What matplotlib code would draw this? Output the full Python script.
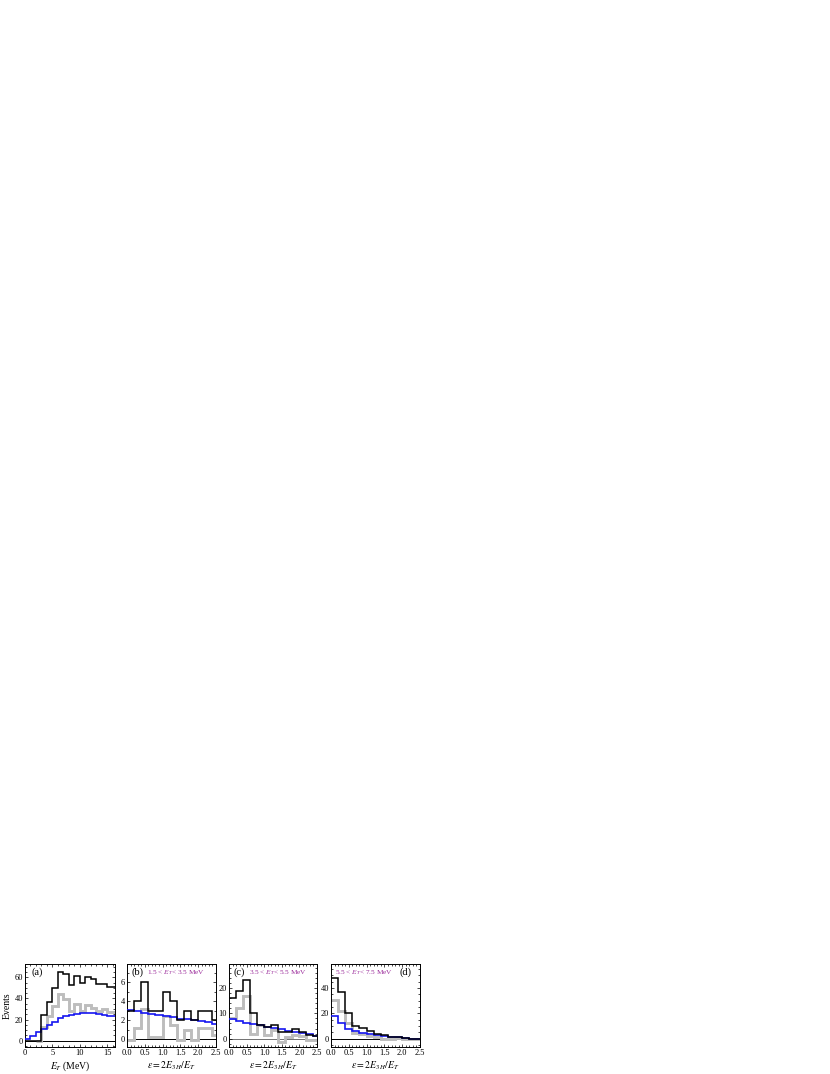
import numpy as np
import matplotlib
matplotlib.use("Agg")
import matplotlib.pyplot as plt
from matplotlib.ticker import MultipleLocator

plt.rcParams['font.family'] = ['Liberation Serif', 'DejaVu Serif']
plt.rcParams['mathtext.fontset'] = 'stix'

# ---------------- data ----------------
# panel (a): E_T spectrum, 1 MeV bins
a_edges_black = np.arange(0, 18, 1.0)
a_black = [0, 0, 0, 24, 37, 50, 65, 63, 53, 61, 55, 60, 58, 54, 54, 51, 51]
a_edges_gray = np.arange(2, 18, 1.0)
a_gray = [0, 13, 23, 33, 44, 39, 28.5, 35, 28.5, 33.5, 31, 28.5, 29.5, 27.5, 27.5]
a_blue = [1.6, 4.7, 7.8, 11.3, 14.4, 17.9, 21, 23, 24.5, 25.5, 26.3, 26.5, 26.2, 25.5, 24.5, 23.5, 23]

# panels (b)-(d): epsilon spectra, 0.2 bins
eps_edges = np.arange(0, 2.61, 0.2)
b_black = [3, 4, 6, 3, 3, 5, 4, 2, 3, 2, 3, 3, 2]
b_gray = [-0.1, 1.2, 3.2, 0.3, 0.3, 2.5, 1.5, -0.1, 1.0, -0.1, 1.2, 1.2, 0.5]
b_blue = [3.1, 2.95, 2.8, 2.7, 2.6, 2.5, 2.4, 2.2, 2.1, 2.0, 1.9, 1.8, 1.6]

c_black = [16, 19, 23, 10, 5.5, 4.5, 5.5, 2.5, 2.5, 4, 2.5, 1.5, 1]
c_gray = [8.2, 12, 17, 2, 5.5, 1.5, 3.5, -1.5, 0.5, 1.5, 1, -0.5, -0.5]
c_blue = [7.6, 7.0, 6.3, 5.8, 5.3, 4.7, 4.2, 3.7, 3.2, 2.7, 2.2, 1.7, 1.2]

d_black = [48, 37, 20.5, 10, 8.7, 6, 4, 2.6, 1.6, 1.3, 0.5, 0.2, 0]
d_gray = [30.5, 22, 12.8, 4.7, 3.4, 2, 1, -0.5, 0, 0.3, 0, 0, 0]
d_blue = [17.9, 12.1, 7.4, 6, 4.7, 4, 2.9, 2.1, 1.5, 1, 0.5, 0.2, 0]

ranges = ["1.5 < $E_T$< 3.5 MeV", "3.5 < $E_T$< 5.5 MeV", "5.5 < $E_T$< 7.5 MeV"]
labels = ["(a)", "(b)", "(c)", "(d)"]

# ---------------- figure ----------------
W, H = 830, 1074
fig = plt.figure(figsize=(W / 100, H / 100), dpi=100)

def ax_at(x0, x1, y0=964, y1=1047):
    return fig.add_axes([x0 / W, (H - y1) / H, (x1 - x0) / W, (y1 - y0) / H])

axes = [ax_at(25, 115), ax_at(127, 216), ax_at(229, 317), ax_at(331, 420)]

GRAY = '#bdbdbd'
BLUE = '#1515f0'
PURPLE = '#9a2a9a'
TFS = 6.0
LFS = 7.0
PFS = 7.5

def style(ax, xmaj, xmin, ymaj, ymin):
    ax.xaxis.set_major_locator(MultipleLocator(xmaj))
    ax.xaxis.set_minor_locator(MultipleLocator(xmin))
    ax.yaxis.set_major_locator(MultipleLocator(ymaj))
    ax.yaxis.set_minor_locator(MultipleLocator(ymin))
    ax.tick_params(which='both', direction='in', top=True, right=True,
                   labelsize=TFS, pad=1.5, width=0.5)
    ax.tick_params(which='major', length=2.2)
    ax.tick_params(which='minor', length=1.1)
    for s in ax.spines.values():
        s.set_linewidth(0.7)

# panel (a)
ax = axes[0]
ax.axhline(0, color='black', lw=0.7, zorder=1)
ax.stairs(a_gray, a_edges_gray, color=GRAY, lw=2.1, baseline=None, zorder=2)
ax.stairs(a_blue, a_edges_black, color=BLUE, lw=1.2, baseline=None, zorder=3)
ax.stairs(a_black, a_edges_black, color='black', lw=1.1, baseline=None, zorder=4)
ax.set_xlim(0, 16.4)
ax.set_ylim(-6, 72.5)
style(ax, 5, 1, 20, 5)
ax.set_xticks([0, 5, 10, 15])
ax.set_ylabel("Events", fontsize=LFS, labelpad=2)
ax.set_xlabel("$E_T$ (MeV)", fontsize=LFS, labelpad=2)
ax.text(0.07, 0.9, labels[0], transform=ax.transAxes, fontsize=PFS, va='center', ha='left')

panel_data = [(b_black, b_gray, b_blue, (-0.8, 7.95), 2, 1),
              (c_black, c_gray, c_blue, (-3.3, 29.5), 10, 2),
              (d_black, d_gray, d_blue, (-6.5, 59), 20, 5)]
zero_cols = ['black', '#707070', 'black']

for i, (bl, gr, bu, yl, ymaj, ymin) in enumerate(panel_data):
    ax = axes[i + 1]
    ax.axhline(0, color=zero_cols[i], lw=0.7, zorder=1)
    ax.stairs(gr, eps_edges, color=GRAY, lw=2.1, baseline=None, zorder=2)
    ax.stairs(bu, eps_edges, color=BLUE, lw=1.2, baseline=None, zorder=3)
    ax.stairs(bl, eps_edges, color='black', lw=1.1, baseline=None, zorder=4)
    ax.set_xlim(0, 2.5)
    ax.set_ylim(*yl)
    style(ax, 0.5, 0.1, ymaj, ymin)
    ax.set_xticks([0, 0.5, 1.0, 1.5, 2.0, 2.5])
    ax.set_xticklabels(["0.0", "0.5", "1.0", "1.5", "2.0", "2.5"])
    ax.set_xlabel(r"$\varepsilon = 2E_{3H}/E_T$", fontsize=LFS, labelpad=2)
    if i < 2:
        ax.text(0.05, 0.9, labels[i + 1], transform=ax.transAxes, fontsize=PFS,
                va='center', ha='left')
        ax.text(0.23, 0.9, ranges[i], transform=ax.transAxes, fontsize=5.2,
                va='center', ha='left', color=PURPLE)
    else:
        ax.text(0.04, 0.9, ranges[i], transform=ax.transAxes, fontsize=5.2,
                va='center', ha='left', color=PURPLE)
        ax.text(0.77, 0.9, labels[3], transform=ax.transAxes, fontsize=PFS,
                va='center', ha='left')

fig.savefig("out.png", dpi=100)
